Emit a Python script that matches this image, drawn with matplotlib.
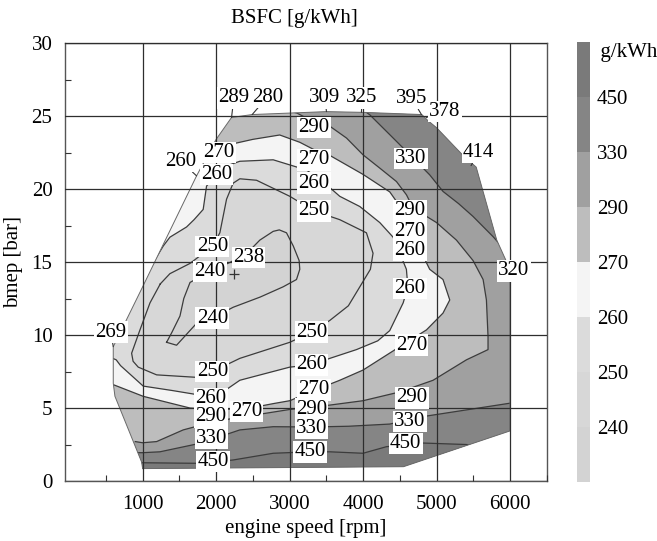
import numpy as np
import matplotlib
matplotlib.use("Agg")
import matplotlib.pyplot as plt
from matplotlib.patches import Polygon
from matplotlib.colors import ListedColormap, BoundaryNorm
from matplotlib.cm import ScalarMappable

plt.rcParams['font.family'] = ['Liberation Serif', 'DejaVu Serif']
plt.rcParams['font.size'] = 15

# operating envelope: engine speed [rpm] / bmep [bar]
env_rpm = [1000, 4550, 6000, 6000, 5820, 5540, 5380, 5000, 4880, 4800, 4000, 3500,
           2490, 2210, 2000, 1734, 1000, 600, 600, 623, 986, 1000]
env_bmep = [0.85, 0.98, 3.43, 14.5, 16.5, 21.5, 22.2, 24.2, 24.7, 25.1, 25.25, 25.3,
            25.1, 24.9, 23.4, 20.9, 13.3, 9.2, 6.7, 5.8, 1.3, 0.85]

# BSFC isolines [g/kWh]
iso240_rpm = [1326, 1462, 1734, 1949, 2232, 2600, 2912, 3094, 3139, 3130, 3050, 2958,
              2860, 2777, 2595, 2459, 2200, 1915, 1645, 1560, 1508, 1400, 1326]
iso240_bmep = [9.5, 9.3, 10.8, 11.15, 11.9, 12.6, 13.3, 13.8, 14.5, 15.1, 16.1, 17.0,
               17.2, 17.1, 16.5, 15.8, 15.0, 14.35, 13.6, 12.5, 11.3, 10.2, 9.5]

iso250_rpm = [1240, 1100, 960, 850, 870, 940, 1190, 1734, 1949, 2323, 3003, 3298, 3548,
              3800, 3956, 4100, 4136, 4046, 3683, 3331, 3003, 2550, 2323, 2232, 2142,
              2051, 1949, 1643, 1371, 1240]
iso250_bmep = [13.5, 12.2, 10.3, 8.75, 8.2, 7.8, 7.27, 7.1, 7.49, 8.4, 9.5, 10.2, 11.0,
               12.0, 13.3, 14.5, 15.6, 17.0, 17.9, 18.5, 19.5, 20.6, 20.7, 20.4, 19.3,
               17.0, 16.06, 14.9, 14.2, 13.5]

iso260_rpm = [500, 640, 700, 1008, 1400, 1700, 1929, 2150, 2323, 2700, 3003, 3298, 3548,
              3910, 4200, 4363, 4546, 4610, 4590, 4500, 4409, 4228, 3956, 3683, 3456,
              3230, 2777, 2323, 2150, 2006, 1870, 1824, 1700, 1598, 1371, 1281, 1100,
              900, 500]
iso260_bmep = [8.6, 8.3, 7.9, 6.5, 6.2, 5.95, 5.9, 6.3, 6.9, 7.4, 7.8, 7.95, 8.4, 9.0,
               9.6, 10.3, 12.2, 13.3, 14.5, 15.6, 16.7, 17.7, 18.8, 19.5, 20.5, 21.3,
               22.0, 21.9, 21.6, 21.0, 20.2, 18.6, 17.9, 17.4, 16.7, 16.1, 14.6, 13.8,
               10.5]

iso270_rpm = [400, 600, 1008, 1643, 2000, 2414, 2777, 3003, 3331, 3683, 4000, 4500,
              4863, 5088, 5180, 5088, 4907, 4780, 4682, 4546, 4364, 4000, 3548, 3331,
              3139, 2866, 2500, 2278, 2100, 1950, 1800, 400]
iso270_bmep = [6.7, 6.6, 5.8, 5.0, 4.9, 4.95, 5.3, 5.5, 6.2, 6.9, 7.6, 9.2, 10.35, 11.5,
               12.4, 13.8, 14.5, 15.8, 17.3, 18.5, 19.8, 21.0, 22.3, 22.7, 23.2, 23.7,
               23.4, 23.15, 23.0, 23.3, 24.5, 24.5]

iso290_rpm = [2800, 3100, 3331, 3548, 3775, 4000, 4228, 4455, 4591, 4682, 5000, 5271,
              5497, 5634, 5679, 5701, 5701, 5407, 4953, 4500, 4000, 3548, 3003, 2500,
              2000, 1552, 1190, 1000, 900]
iso290_bmep = [25.6, 25.2, 24.6, 24.3, 23.49, 22.34, 21.43, 20.51, 19.6, 18.69, 17.7,
               16.5, 15.1, 13.8, 12.4, 9.9, 9.0, 8.3, 6.9, 6.1, 5.5, 5.2, 4.9, 4.5,
               4.1, 3.5, 2.7, 2.62, 2.7]

iso330_top_rpm = [3950, 4092, 4364, 4682, 4907, 5089, 5300, 5497, 5769, 5900]
iso330_top_bmep = [25.6, 25.08, 23.72, 22.12, 20.97, 19.83, 19.0, 18.12, 16.74, 16.0]

iso330_bot_rpm = [900, 1000, 1235, 1779, 2323, 2777, 3300, 3800, 4363, 4800, 5407, 6000, 6200]
iso330_bot_bmep = [1.94, 1.94, 2.0, 2.58, 3.5, 3.72, 3.7, 3.75, 3.9, 4.4, 4.87, 5.33, 5.4]

iso450_rpm = [900, 1000, 1779, 2232, 2777, 3276, 3548, 4000, 4318, 4818, 5400, 5600]
iso450_bmep = [1.25, 1.25, 1.21, 1.44, 1.9, 2.0, 2.0, 1.9, 2.35, 2.6, 2.5, 2.4]

levels = [240, 250, 260, 270, 290, 330, 450]
band_colors = ['#d3d3d3', '#d7d7d7', '#dbdbdb', '#f4f4f4',
               '#bdbdbd', '#a0a0a0', '#858585', '#7a7a7a']

# contour labels: position and level
lab_rpm = [3331, 3331, 3331, 3331, 4649, 4636, 4636, 4636, 4636, 4658, 4663, 4636,
           4581, 3298, 3298, 3331, 3298, 3298, 3276, 1929, 1929, 1938, 1960, 2414,
           1949, 1949, 1915, 1949, 2006, 2038]
lab_bmep = [24.2, 22.0, 20.4, 18.5, 22.1, 18.5, 17.1, 15.8, 13.2, 9.3, 5.7, 4.06,
            2.58, 10.2, 7.95, 6.24, 4.93, 3.63, 1.99, 5.62, 4.39, 2.93, 1.32, 4.75,
            7.49, 11.15, 14.35, 16.06, 21.0, 22.5]
lab_level = [290, 270, 260, 250, 330, 290, 270, 260, 260, 270, 290, 330,
             450, 250, 260, 270, 290, 330, 450, 260, 290, 330, 450, 270,
             250, 240, 240, 250, 260, 270]

# measured BSFC on the full-load line
fl_rpm = [2210, 2491, 3502, 3978, 4795, 4860, 5470, 6000, 1734, 600]
fl_bmep = [24.9, 25.1, 25.3, 25.25, 25.1, 24.9, 21.6, 14.5, 20.9, 9.2]
fl_val = [289, 280, 309, 325, 395, 378, 414, 320, 260, 269]
fl_txt_rpm = [2242, 2697, 3480, 3986, 4663, 5112, 5574, 6050, 1521, 568]
fl_txt_bmep = [26.25, 26.3, 26.25, 26.25, 26.2, 25.3, 22.5, 14.4, 21.9, 10.2]

# BSFC minimum
min_rpm, min_bmep, min_val = 2242, 14.2, 238

fig = plt.figure(figsize=(6.57, 5.41), dpi=100)
ax = fig.add_axes([0.0989, 0.1109, 0.7336, 0.8096])
ax.set_xlim(-57, 6503)
ax.set_ylim(0, 30)

env = Polygon(np.c_[env_rpm, env_bmep], closed=True, facecolor=band_colors[4],
              edgecolor='none', zorder=1)
ax.add_patch(env)


def fill_region(xs, ys, color):
    p = ax.fill(xs, ys, facecolor=color, edgecolor='none', zorder=1)[0]
    p.set_clip_path(env)


def isoline(xs, ys):
    ln, = ax.plot(xs, ys, color='#3c3c3c', lw=0.9, zorder=1.5)
    ln.set_clip_path(env)


# high-consumption zones, closed outside the envelope
fill_region(iso290_rpm + [700, 700, 7000, 7000, 2800],
            iso290_bmep + [2.7, -2, -2, 31, 31], band_colors[5])
fill_region(iso330_top_rpm + [7000, 7000, 3950],
            iso330_top_bmep + [16.0, 31, 31], band_colors[6])
fill_region(iso330_bot_rpm + [7000, 7000, 900],
            iso330_bot_bmep + [5.4, -2, -2], band_colors[6])
fill_region(iso450_rpm + [5600, 900],
            iso450_bmep + [-2, -2], band_colors[7])
# low-consumption islands
fill_region(iso270_rpm, iso270_bmep, band_colors[3])
fill_region(iso260_rpm, iso260_bmep, band_colors[2])
fill_region(iso250_rpm, iso250_bmep, band_colors[1])
fill_region(iso240_rpm, iso240_bmep, band_colors[0])

isoline(iso290_rpm, iso290_bmep)
isoline(iso330_top_rpm, iso330_top_bmep)
isoline(iso330_bot_rpm, iso330_bot_bmep)
isoline(iso450_rpm, iso450_bmep)
isoline(iso270_rpm[1:-2], iso270_bmep[1:-2])
isoline(iso260_rpm, iso260_bmep)
isoline(iso250_rpm, iso250_bmep)
isoline(iso240_rpm, iso240_bmep)

ax.plot(env_rpm, env_bmep, color='#6a6a6a', lw=0.7, zorder=1.6)

box = dict(boxstyle='square,pad=0.06', facecolor='white', edgecolor='none')
for x, y, lev in zip(lab_rpm, lab_bmep, lab_level):
    ax.text(x, y, str(lev), ha='center', va='center', bbox=box, zorder=4)

for x, y, v, tx, ty in zip(fl_rpm, fl_bmep, fl_val, fl_txt_rpm, fl_txt_bmep):
    ax.annotate(str(v), xy=(x, y), xytext=(tx, ty), ha='center', va='center',
                bbox=box, zorder=4,
                arrowprops=dict(arrowstyle='-', color='#333333', lw=0.8,
                                shrinkA=0, shrinkB=0))

ax.plot(min_rpm, min_bmep, marker='+', color='#333333', ms=7, mew=0.9, zorder=4)
ax.text(min_rpm + 200, min_bmep + 1.1, str(min_val), ha='center', va='center',
        bbox=box, zorder=4)

ax.set_xticks(range(1000, 6001, 1000))
ax.set_xticks(range(500, 6501, 1000), minor=True)
ax.set_yticks(range(0, 31, 5))
ax.set_yticks(np.arange(2.5, 30, 5), minor=True)
ax.tick_params(which='both', direction='in', colors='#333333', labelcolor='black')
ax.tick_params(which='major', length=0)
ax.tick_params(axis='x', which='major', pad=10)
ax.tick_params(axis='y', which='major', pad=9)
ax.tick_params(which='minor', length=4, width=0.8)
ax.set_axisbelow(False)
ax.grid(True, which='major', color='#2e2e2e', lw=0.9)
for s in ax.spines.values():
    s.set_color('#555555')
    s.set_linewidth(1.0)

ax.set_xlabel('engine speed [rpm]', labelpad=4)
ax.set_ylabel('bmep [bar]', labelpad=6)
fig.text(294 / 657, 1 - 18 / 541, 'BSFC [g/kWh]', ha='center', va='center')

# discrete colour key
cax = fig.add_axes([0.8782, 0.109, 0.0198, 0.8133])
cmap = ListedColormap(band_colors)
norm = BoundaryNorm([230] + levels + [500], cmap.N)
cb = fig.colorbar(ScalarMappable(norm=norm, cmap=cmap), cax=cax,
                  spacing='uniform', ticks=levels)
cb.outline.set_visible(False)
cax.minorticks_off()
cax.tick_params(length=0, pad=5)
cax.text(1.0, 0.977, '  g/kWh', transform=cax.transAxes, ha='left', va='center')

fig.savefig('out.png', dpi=100)
